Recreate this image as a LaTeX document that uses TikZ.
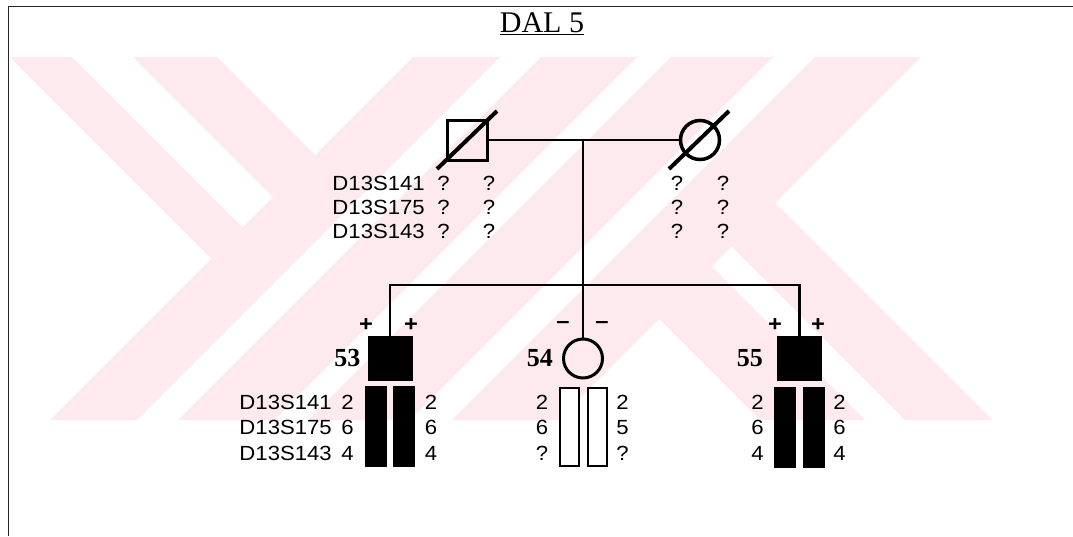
\documentclass[tikz,border=0pt]{standalone}
\usepackage{fontspec}
\setmainfont{Liberation Serif}
\newfontfamily\arialish[FakeStretch=1.08]{Liberation Sans}
\usetikzlibrary{positioning}
\definecolor{wmpink}{RGB}{253,234,238}
\newcommand{\mkA}{\arialish\fontsize{20.5}{24}\selectfont}
\newcommand{\mkB}{\arialish\fontsize{20.5}{25.5}\selectfont}

\begin{document}
\begin{tikzpicture}[x=1pt,y=-1pt,
  male/.style={rectangle,draw,line width=3pt,minimum size=40pt,inner sep=0pt},
  female/.style={circle,draw,line width=3.5pt,minimum size=39pt,inner sep=0pt},
  affmale/.style={rectangle,draw,fill=black,line width=1pt,minimum size=44pt,inner sep=0pt},
  hapfull/.style={rectangle,draw,fill=black,line width=1pt,minimum width=21pt,minimum height=80pt,inner sep=0pt},
  hapopen/.style={rectangle,draw,fill=white,line width=2pt,minimum width=19pt,minimum height=78pt,inner sep=0pt},
  toprow/.style={font=\mkA,inner sep=0pt,align=center},
  botrow/.style={font=\mkB,inner sep=0pt,align=center},
  idlab/.style={font=\fontsize{26}{26}\selectfont\bfseries,inner sep=0pt},
  sign/.style={font=\arialish\fontsize{22}{22}\selectfont\bfseries,inner sep=0pt},
  link/.style={line width=2.5pt},
  slash/.style={line width=4pt}
]
\useasboundingbox (0,0) rectangle (1073,536);

% watermark
\fill[wmpink] (413,57) -- (500,57) -- (137,420) -- (50,420) -- cycle;
\fill[wmpink] (541,57) -- (637,57) -- (274,420) -- (178,420) -- cycle;
\fill[wmpink] (671,57) -- (773,57) -- (410,420) -- (308,420) -- cycle;
\fill[wmpink] (815,57) -- (921,57) -- (558,420) -- (452,420) -- cycle;
\fill[wmpink] (10,57) -- (72,57) -- (262.5,247.5) -- (231.5,278.5) -- cycle;
\fill[wmpink] (133,57) -- (217,57) -- (335,175) -- (293,217) -- cycle;
\fill[wmpink] (645,305) -- (697.5,252.5) -- (865,420) -- (760,420) -- cycle;
\fill[wmpink] (717.5,232.5) -- (761,189) -- (992,420) -- (905,420) -- cycle;

% frame and title
\draw[line width=1pt,black!85] (8,536) -- (8,6) -- (1073,6);
\node (title) at (542,24) {\fontsize{30}{30}\selectfont\underline{DAL 5}};

% parents
\node[male] (dad) at (467,140) {};
\node[female] (mom) at (700,140) {};
\draw[slash] (437,169) -- (497,111);
\draw[slash] (669,169) -- (729,111);
\coordinate (mar) at (583,140);
\coordinate (sib) at (583,285);
\draw[link] (dad.east) -- (mom.west);
\draw[link] (mar) -- (sib);

\node[toprow,align=right,anchor=east] (loci1) at (425,207) {D13S141\\D13S175\\D13S143};
\node[toprow] (dad1) at (443.5,207) {?\\?\\?};
\node[toprow] (dad2) at (489,207) {?\\?\\?};
\node[toprow] (mom1) at (677,207) {?\\?\\?};
\node[toprow] (mom2) at (723,207) {?\\?\\?};

% children
\node[affmale] (c53) at (390,358.5) {};
\node[female,line width=3pt] (c54) at (583,358.5) {};
\node[affmale] (c55) at (799.5,358.5) {};
\draw[link] (c53.north) |- (sib) -| (c55.north);
\draw[link] (sib) -- (c54.north);

\node[idlab,left=7pt of c53] (l53) {53};
\node[idlab,left=9pt of c54] (l54) {54};
\node[idlab,left=14pt of c55] (l55) {55};

\node[sign] (p53a) at (366,325) {+};
\node[sign] (p53b) at (411,325) {+};
\node[sign] (m54a) at (563,325) {–};
\node[sign] (m54b) at (602,325) {–};
\node[sign] (p55a) at (775,325) {+};
\node[sign] (p55b) at (818,325) {+};

% haplotypes
\node[hapfull] (h53a) at (376,426.5) {};
\node[hapfull] (h53b) at (404,426.5) {};
\node[hapopen] (h54a) at (569.5,426.5) {};
\node[hapopen] (h54b) at (597,426.5) {};
\node[hapfull] (h55a) at (784.5,427) {};
\node[hapfull] (h55b) at (813.5,427) {};

\node[botrow,align=right,anchor=east] (loci2) at (332,427.5) {D13S141\\D13S175\\D13S143};
\node[botrow] (a53l) at (347.5,427.5) {2\\6\\4};
\node[botrow] (a53r) at (431,427.5) {2\\6\\4};
\node[botrow] (a54l) at (542,427.5) {2\\6\\?};
\node[botrow] (a54r) at (622.5,427.5) {2\\5\\?};
\node[botrow] (a55l) at (757.5,427.5) {2\\6\\4};
\node[botrow] (a55r) at (839.5,427.5) {2\\6\\4};
\end{tikzpicture}
\end{document}
